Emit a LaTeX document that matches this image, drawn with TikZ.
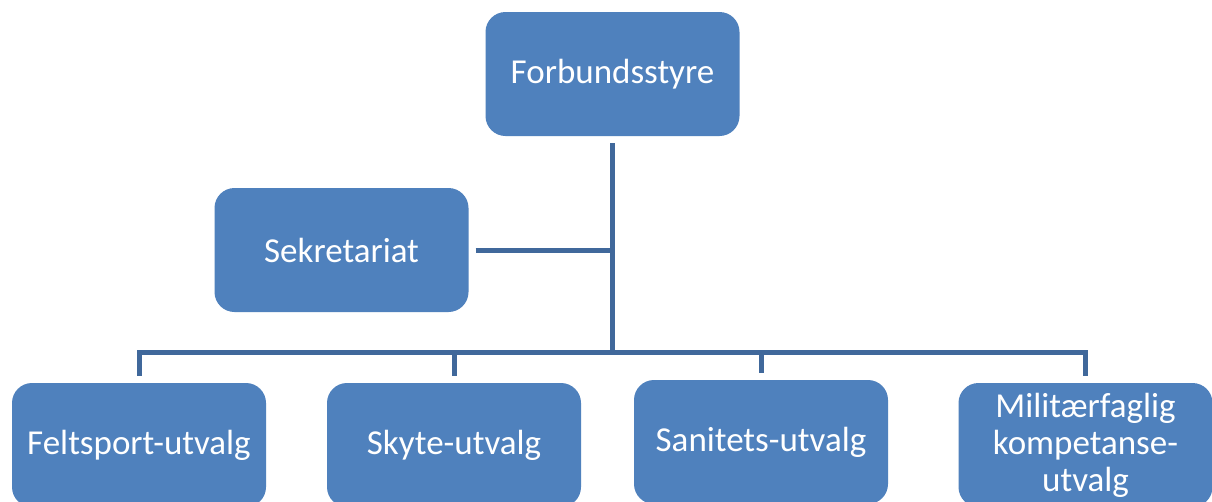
\documentclass[tikz,border=0pt]{standalone}
\usepackage{fontspec}
\setmainfont{Carlito}
\definecolor{boxblue}{HTML}{4F81BD}
\definecolor{linecol}{HTML}{40689B}
\begin{document}
\begin{tikzpicture}[x=1pt,y=-1pt,
  orgbox/.style={fill=boxblue,draw=none,rounded corners=20pt,minimum width=254pt,minimum height=124pt,
    text=white,align=center,inner sep=2pt,font=\fontsize{35}{37}\selectfont},
  conn/.style={draw=linecol,line width=5pt}]
\useasboundingbox (0,0) rectangle (1212,501);
\clip (0,0) rectangle (1212,501);
\fill[white] (0,0) rectangle (1212,501);
\node[orgbox] (top) at (612.5,74) {Forbundsstyre};
\node[orgbox] (sek) at (341.5,250) {Sekretariat};
\node[orgbox] (f1) at (139,445) {Feltsport-utvalg};
\node[orgbox] (f2) at (454,445) {Skyte-utvalg};
\node[orgbox] (f3) at (761,442) {Sanitets-utvalg};
\node[orgbox] (f4) at (1085.5,445) {Militærfaglig\\kompetanse-\\utvalg};
\coordinate (bus) at (612,352);
\draw[conn] ([yshift=-7pt]top.south) -- (top.south |- bus);
\draw[conn] ([xshift=7pt]sek.east) -- (sek.east -| top.south);
\foreach \n in {f1,f2,f3,f4}
  \draw[conn] (top.south |- bus) -| ([yshift=7pt]\n.north);
\end{tikzpicture}
\end{document}
